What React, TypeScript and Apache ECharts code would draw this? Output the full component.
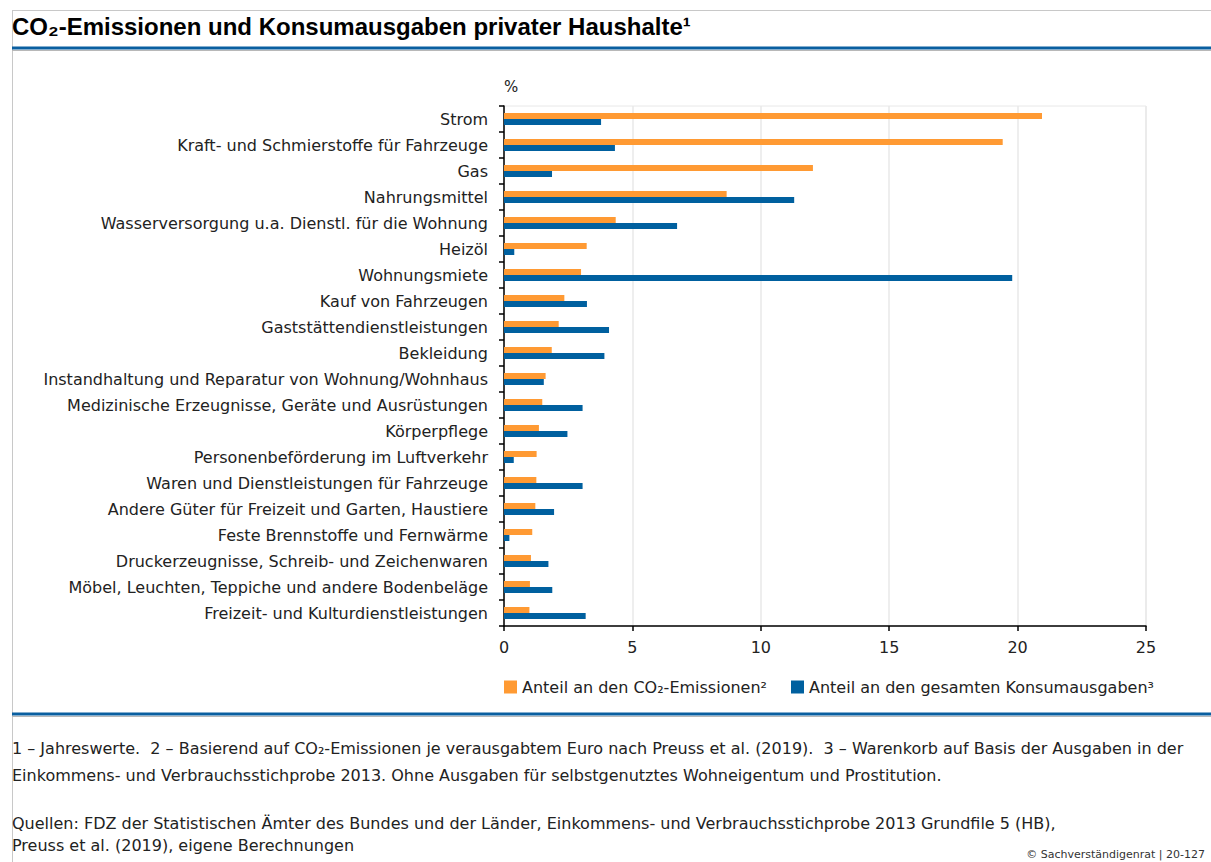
import React, { useEffect, useRef } from "react";
import * as echarts from "echarts";

const categories = [
  "Strom",
  "Kraft- und Schmierstoffe für Fahrzeuge",
  "Gas",
  "Nahrungsmittel",
  "Wasserversorgung u.a. Dienstl. für die Wohnung",
  "Heizöl",
  "Wohnungsmiete",
  "Kauf von Fahrzeugen",
  "Gaststättendienstleistungen",
  "Bekleidung",
  "Instandhaltung und Reparatur von Wohnung/Wohnhaus",
  "Medizinische Erzeugnisse, Geräte und Ausrüstungen",
  "Körperpflege",
  "Personenbeförderung im Luftverkehr",
  "Waren und Dienstleistungen für Fahrzeuge",
  "Andere Güter für Freizeit und Garten, Haustiere",
  "Feste Brennstoffe und Fernwärme",
  "Druckerzeugnisse, Schreib- und Zeichenwaren",
  "Möbel, Leuchten, Teppiche und andere Bodenbeläge",
  "Freizeit- und Kulturdienstleistungen",
];

const co2Share = [
  20.95, 19.42, 12.03, 8.67, 4.35, 3.22, 3.0, 2.35, 2.13, 1.86,
  1.62, 1.49, 1.36, 1.27, 1.26, 1.22, 1.1, 1.05, 1.01, 0.99,
];

const spendingShare = [
  3.78, 4.32, 1.87, 11.3, 6.74, 0.4, 19.79, 3.23, 4.09, 3.91,
  1.55, 3.06, 2.47, 0.38, 3.06, 1.95, 0.21, 1.73, 1.88, 3.18,
];

const xTicks = [0, 5, 10, 15, 20, 25];

const seriesNames = [
  "Anteil an den CO₂-Emissionen²",
  "Anteil an den gesamten Konsumausgaben³",
];

const titleText = "CO₂-Emissionen und Konsumausgaben privater Haushalte¹";
const footnotes = [
  "1 – Jahreswerte.  2 – Basierend auf CO₂-Emissionen je verausgabtem Euro nach Preuss et al. (2019).  3 – Warenkorb auf Basis der Ausgaben in der",
  "Einkommens- und Verbrauchsstichprobe 2013. Ohne Ausgaben für selbstgenutztes Wohneigentum und Prostitution.",
  "Quellen: FDZ der Statistischen Ämter des Bundes und der Länder, Einkommens- und Verbrauchsstichprobe 2013 Grundfile 5 (HB),",
  "Preuss et al. (2019), eigene Berechnungen",
];
const copyright = "© Sachverständigenrat | 20-127";

const ORANGE = "#FF9A33";
const BLUE = "#00609F";
const FONT = "'DejaVu Sans', 'Open Sans', sans-serif";

export default function App() {
  const ref = useRef<HTMLDivElement>(null);

  useEffect(() => {
    if (!ref.current) return;
    const chart = echarts.init(ref.current, undefined, { renderer: "svg" });
    const footY = [750, 777, 825, 847];
    chart.setOption({
      animation: false,
      backgroundColor: "#ffffff",
      textStyle: { fontFamily: FONT },
      grid: {
        left: 504,
        right: 65,
        top: 106,
        bottom: 236,
        show: true,
        borderColor: "#e8e8e8",
        borderWidth: 1,
      },
      legend: {
        left: 499,
        top: 674,
        itemWidth: 13,
        itemHeight: 13,
        itemGap: 24,
        icon: "rect",
        textStyle: { fontSize: 16, color: "#222", fontFamily: FONT },
        data: seriesNames,
      },
      xAxis: {
        type: "value",
        min: 0,
        max: 25,
        interval: 5,
        axisLine: { show: true, lineStyle: { color: "#000", width: 1.5 } },
        axisTick: { show: true, length: 5, lineStyle: { color: "#000", width: 1.5 } },
        axisLabel: {
          margin: 13,
          fontSize: 16,
          color: "#222",
          fontFamily: FONT,
          formatter: (v: number) => (xTicks.includes(v) ? String(v) : ""),
        },
        splitLine: { show: true, lineStyle: { color: "#e8e8e8", width: 1.5 } },
      },
      yAxis: {
        type: "category",
        inverse: true,
        data: categories,
        axisLine: { show: true, lineStyle: { color: "#000", width: 1.5 } },
        axisTick: { show: true, length: 5, alignWithLabel: false, lineStyle: { color: "#000", width: 1.5 } },
        axisLabel: { margin: 16, fontSize: 16, color: "#222", fontFamily: FONT },
        splitLine: { show: false },
      },
      series: [
        {
          name: seriesNames[0],
          type: "bar",
          data: co2Share,
          barWidth: 6,
          barGap: "0%",
          itemStyle: { color: ORANGE },
        },
        {
          name: seriesNames[1],
          type: "bar",
          data: spendingShare,
          barWidth: 6,
          barGap: "0%",
          itemStyle: { color: BLUE },
        },
      ],
      graphic: [
        { type: "line", shape: { x1: 12, y1: 10.5, x2: 1211, y2: 10.5 }, style: { stroke: "#c8c8c8", lineWidth: 1 } },
        { type: "line", shape: { x1: 12.5, y1: 10, x2: 12.5, y2: 862 }, style: { stroke: "#c8c8c8", lineWidth: 1 } },
        { type: "line", shape: { x1: 12, y1: 48, x2: 1211, y2: 48 }, style: { stroke: "#0A5FA0", lineWidth: 3 } },
        { type: "line", shape: { x1: 12, y1: 50.5, x2: 1211, y2: 50.5 }, style: { stroke: "#b8b8b8", lineWidth: 1 } },
        { type: "line", shape: { x1: 12, y1: 714, x2: 1211, y2: 714 }, style: { stroke: "#0A5FA0", lineWidth: 3 } },
        { type: "line", shape: { x1: 12, y1: 716.5, x2: 1211, y2: 716.5 }, style: { stroke: "#b8b8b8", lineWidth: 1 } },
        {
          type: "text",
          left: 12,
          top: 14,
          style: {
            text: titleText,
            font: "bold 24px 'Liberation Sans', Arial, sans-serif",
            fill: "#000",
          },
        },
        {
          type: "text",
          left: 504,
          top: 79,
          style: { text: "%", font: `15px ${FONT}`, fill: "#222" },
        },
        ...footnotes.map((t, i) => ({
          type: "text",
          left: 12,
          top: footY[i] - 10,
          style: { text: t, font: `16px ${FONT}`, fill: "#222" },
        })),
        {
          type: "text",
          right: 6,
          top: 849,
          style: { text: copyright, font: `11px ${FONT}`, fill: "#333" },
        },
      ],
    });
    return () => chart.dispose();
  }, []);

  return (
    <div
      ref={ref}
      style={{ position: "fixed", left: 0, top: 0, width: 1211, height: 862 }}
    />
  );
}
